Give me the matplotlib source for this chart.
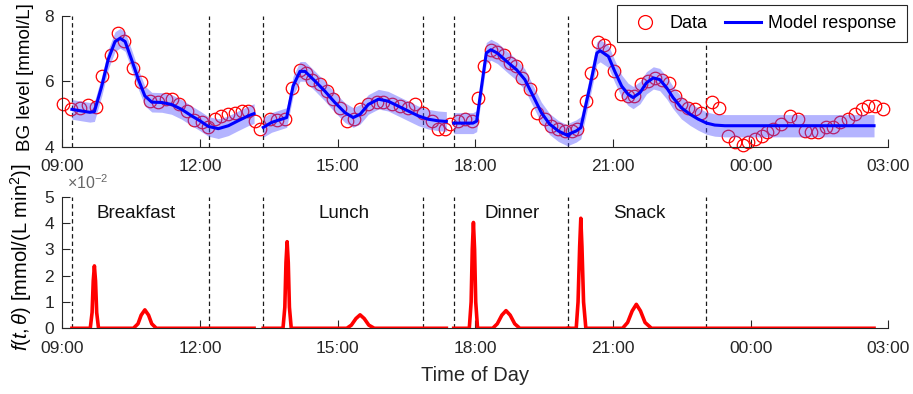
import matplotlib
matplotlib.use("Agg")
import matplotlib.pyplot as plt
from matplotlib.lines import Line2D

plt.rcParams['font.family'] = ['Liberation Sans', 'DejaVu Sans']
plt.rcParams['mathtext.fontset'] = 'custom'
plt.rcParams['mathtext.rm'] = 'Liberation Sans'
plt.rcParams['mathtext.it'] = 'Liberation Sans:italic'
plt.rcParams['font.size'] = 12

# measured BG (hours from midnight of day 1, values in mmol/L)
bg_time = [9.02, 9.20, 9.39, 9.57, 9.73, 9.87, 10.06, 10.21, 10.35, 10.55, 10.71, 10.91, 11.08, 11.25,
           11.40, 11.55, 11.71, 11.88, 12.04, 12.18, 12.33, 12.47, 12.62, 12.76, 12.91, 13.05, 13.20, 13.31,
           13.52, 13.67, 13.85, 14.00, 14.18, 14.32, 14.45, 14.61, 14.76, 14.90, 15.05, 15.20, 15.36,
           15.49, 15.67, 15.85, 16.00, 16.18, 16.36, 16.54, 16.68, 16.87, 17.05, 17.19, 17.33, 17.45,
           17.63, 17.77, 17.92, 18.06, 18.20, 18.34, 18.48, 18.62, 18.75, 18.88, 19.01, 19.19, 19.34,
           19.52, 19.66, 19.81, 19.95, 20.10, 20.21,
           20.42, 20.53, 20.68, 20.80, 20.92, 21.03, 21.17, 21.33, 21.47, 21.62, 21.77, 21.91, 22.06,
           22.22, 22.35, 22.49, 22.64, 22.78, 22.93, 23.15, 23.31, 23.51, 23.66, 23.84, 23.95, 24.09,
           24.24, 24.35, 24.49, 24.67, 24.85, 25.03, 25.18, 25.32, 25.47, 25.65, 25.80, 25.94, 26.12,
           26.27, 26.42, 26.56, 26.71, 26.89]
bg_value = [5.29, 5.16, 5.19, 5.26, 5.22, 6.17, 6.81, 7.47, 7.24, 6.41, 5.97, 5.41, 5.36, 5.45,
            5.47, 5.29, 5.09, 4.80, 4.74, 4.59, 4.84, 4.94, 4.99, 5.04, 5.09, 5.09, 4.79, 4.54,
            4.84, 4.80, 4.84, 5.80, 6.35, 6.25, 6.05, 5.90, 5.70, 5.45, 5.19, 4.79, 4.84,
            5.14, 5.29, 5.35, 5.35, 5.29, 5.24, 5.19, 5.29, 5.04, 4.79, 4.54, 4.54, 4.69,
            4.79, 4.84, 4.79, 5.50, 6.45, 6.96, 6.90, 6.80, 6.56, 6.45, 6.10, 5.75, 5.04,
            4.84, 4.64, 4.54, 4.48, 4.48, 4.54,
            5.39, 6.25, 7.21, 7.11, 6.95, 6.30, 5.60, 5.55, 5.55, 5.90, 6.00, 6.10, 6.05,
            5.95, 5.55, 5.29, 5.19, 5.14, 5.04, 5.35, 5.19, 4.33, 4.13, 4.05, 4.13, 4.23,
            4.33, 4.44, 4.54, 4.69, 4.94, 4.84, 4.48, 4.44, 4.44, 4.59, 4.59, 4.74, 4.84,
            4.99, 5.14, 5.24, 5.24, 5.14]

# model response, one list per meal window
model_time = [
    [9.21, 9.42, 9.60, 9.70, 9.86, 10.00, 10.15, 10.26, 10.37, 10.51, 10.66, 10.80, 10.95, 11.17,
     11.38, 11.60, 11.82, 12.00, 12.18, 12.40, 12.62, 12.83, 13.05, 13.18],
    [13.38, 13.56, 13.78, 13.89, 14.03, 14.18, 14.29, 14.51, 14.72, 14.94, 15.16, 15.34, 15.49,
     15.67, 15.89, 16.10, 16.32, 16.54, 16.76, 16.97, 17.19, 17.37],
    [17.53, 17.75, 17.95, 18.03, 18.24, 18.34, 18.48, 18.72, 18.90, 19.08, 19.26, 19.44, 19.62,
     19.81, 20.03],
    [20.03, 20.20, 20.30, 20.50, 20.65, 20.72, 20.90, 21.04, 21.19, 21.33, 21.44, 21.59, 21.73,
     21.88, 22.02, 22.17, 22.31, 22.49, 22.68, 22.86, 23.04, 23.22, 23.44, 26.69],
]
model_value = [
    [5.14, 5.09, 5.05, 5.07, 5.85, 6.66, 7.21, 7.31, 7.21, 6.66, 6.05, 5.55, 5.36, 5.35,
     5.29, 5.14, 4.94, 4.79, 4.62, 4.55, 4.64, 4.79, 4.94, 5.01],
    [4.59, 4.74, 4.84, 4.89, 5.85, 6.30, 6.30, 6.00, 5.70, 5.35, 5.04, 4.89, 4.99,
     5.29, 5.45, 5.39, 5.24, 5.09, 4.94, 4.84, 4.79, 4.77],
    [4.72, 4.72, 4.72, 4.78, 6.86, 6.96, 6.86, 6.56, 6.35, 6.05, 5.55, 5.04, 4.69,
     4.48, 4.33],
    [4.38, 4.48, 4.58, 5.85, 6.86, 6.93, 6.76, 6.30, 5.85, 5.60, 5.50, 5.65, 5.95,
     6.10, 6.05, 5.80, 5.50, 5.19, 4.99, 4.84, 4.72, 4.66, 4.64, 4.64],
]
band_half = [0.30, 0.30, 0.32, 0.34]

# estimated glucose appearance f(t, theta), units of 1e-2 mmol/(L min^2)
f_time = [
    [9.21, 9.61, 9.65, 9.675, 9.70, 9.725, 9.75, 9.79, 10.55, 10.65, 10.72, 10.80, 10.88, 10.95, 11.05, 13.18],
    [13.38, 13.81, 13.85, 13.875, 13.90, 13.925, 13.95, 13.99, 15.20, 15.30, 15.40, 15.49, 15.58, 15.68, 15.80, 17.37],
    [17.53, 17.87, 17.91, 17.935, 17.96, 17.985, 18.01, 18.05, 18.38, 18.48, 18.58, 18.67, 18.76, 18.86, 18.97, 20.03],
    [20.03, 20.20, 20.24, 20.275, 20.30, 20.325, 20.36, 20.41, 21.21, 21.32, 21.42, 21.51, 21.60, 21.70, 21.84, 26.69],
]
f_value = [
    [0, 0, 0.6, 1.8, 2.37, 1.8, 0.6, 0, 0, 0.17, 0.5, 0.70, 0.5, 0.17, 0, 0],
    [0, 0, 0.8, 2.5, 3.29, 2.5, 0.8, 0, 0, 0.12, 0.37, 0.51, 0.37, 0.12, 0, 0],
    [0, 0, 1.0, 3.0, 4.02, 3.0, 1.0, 0, 0, 0.17, 0.5, 0.67, 0.5, 0.17, 0, 0],
    [0, 0, 1.0, 3.1, 4.18, 3.1, 1.0, 0, 0, 0.22, 0.66, 0.91, 0.66, 0.22, 0, 0],
]

meal_names = ['Breakfast', 'Lunch', 'Dinner', 'Snack']
meal_label_x = [9.75, 14.58, 18.21, 21.0]
window_lines = [9.21, 12.20, 13.38, 16.87, 17.53, 20.03, 23.03]

tick_hours = [9, 12, 15, 18, 21, 24, 27]
tick_labels = ['09:00', '12:00', '15:00', '18:00', '21:00', '00:00', '03:00']

axcol = '#262626'

fig = plt.figure(figsize=(9.13, 3.94), dpi=100)
ax1 = fig.add_axes([0.0682, 0.6277, 0.9047, 0.3325])
ax2 = fig.add_axes([0.0682, 0.1668, 0.9047, 0.334])

for ax in (ax1, ax2):
    for s in ('top', 'right'):
        ax.spines[s].set_visible(False)
    for s in ('left', 'bottom'):
        ax.spines[s].set_color(axcol)
        ax.spines[s].set_linewidth(0.8)
    ax.tick_params(direction='in', length=5.5, width=0.8, colors=axcol, labelsize=12.5)
    ax.tick_params(axis='x', pad=9)
    ax.tick_params(axis='y', pad=6)
    ax.set_xlim(9, 27)
    ax.set_xticks(tick_hours)
    ax.set_xticklabels(tick_labels)
    for x in window_lines:
        ax.axvline(x, color='#1a1a1a', lw=0.9, ls=(0, (3.5, 2.5)), zorder=1)

# top panel
ax1.plot(bg_time, bg_value, 'o', ms=9, mfc='none', mec='red', mew=0.9, clip_on=False, zorder=2)
for t, v, hw in zip(model_time, model_value, band_half):
    ax1.fill_between(t, [y - hw for y in v], [y + hw for y in v], color=(0.3, 0.3, 1.0), alpha=0.42,
                     lw=0, zorder=3)
    ax1.plot(t, v, color='blue', lw=2.2, zorder=4)
ax1.set_ylim(4, 8)
ax1.set_yticks([4, 6, 8])
ax1.set_ylabel('BG level [mmol/L]', fontsize=13.5)
ax1.yaxis.set_label_coords(-0.034, 0.53)

handles = [Line2D([], [], marker='o', ls='none', ms=10, mfc='none', mec='red', mew=0.9),
           Line2D([], [], color='blue', lw=2.2)]
leg = fig.legend(handles, ['Data', 'Model response'], loc='upper right', bbox_to_anchor=(0.993, 0.987),
                 ncol=2, fancybox=False, edgecolor=axcol, framealpha=1, borderaxespad=0,
                 handlelength=2.0, columnspacing=0.95, handletextpad=0.4, fontsize=13, borderpad=0.55)
leg.get_frame().set_linewidth(0.8)

# bottom panel
for t, v in zip(f_time, f_value):
    ax2.plot(t, v, color='red', lw=2.6, zorder=4)
for name, x in zip(meal_names, meal_label_x):
    ax2.text(x, 4.37, name, ha='left', va='center', fontsize=13.5, color='#111111')
ax2.set_ylim(0, 5)
ax2.set_yticks([0, 1, 2, 3, 4, 5])
ax2.text(0.006, 1.105, r'$\times10^{-2}$', transform=ax2.transAxes, ha='left', va='center',
         fontsize=11.5, color='#666666')
ax2.set_ylabel(r'$f(t,\theta)$ [mmol/(L min$^2$)]', fontsize=14.5)
ax2.yaxis.set_label_coords(-0.034, 0.54)
ax2.set_xlabel('Time of Day', fontsize=14.5, color=axcol)
ax2.xaxis.set_label_coords(0.5, -0.29)

fig.savefig('out.png', dpi=100)
